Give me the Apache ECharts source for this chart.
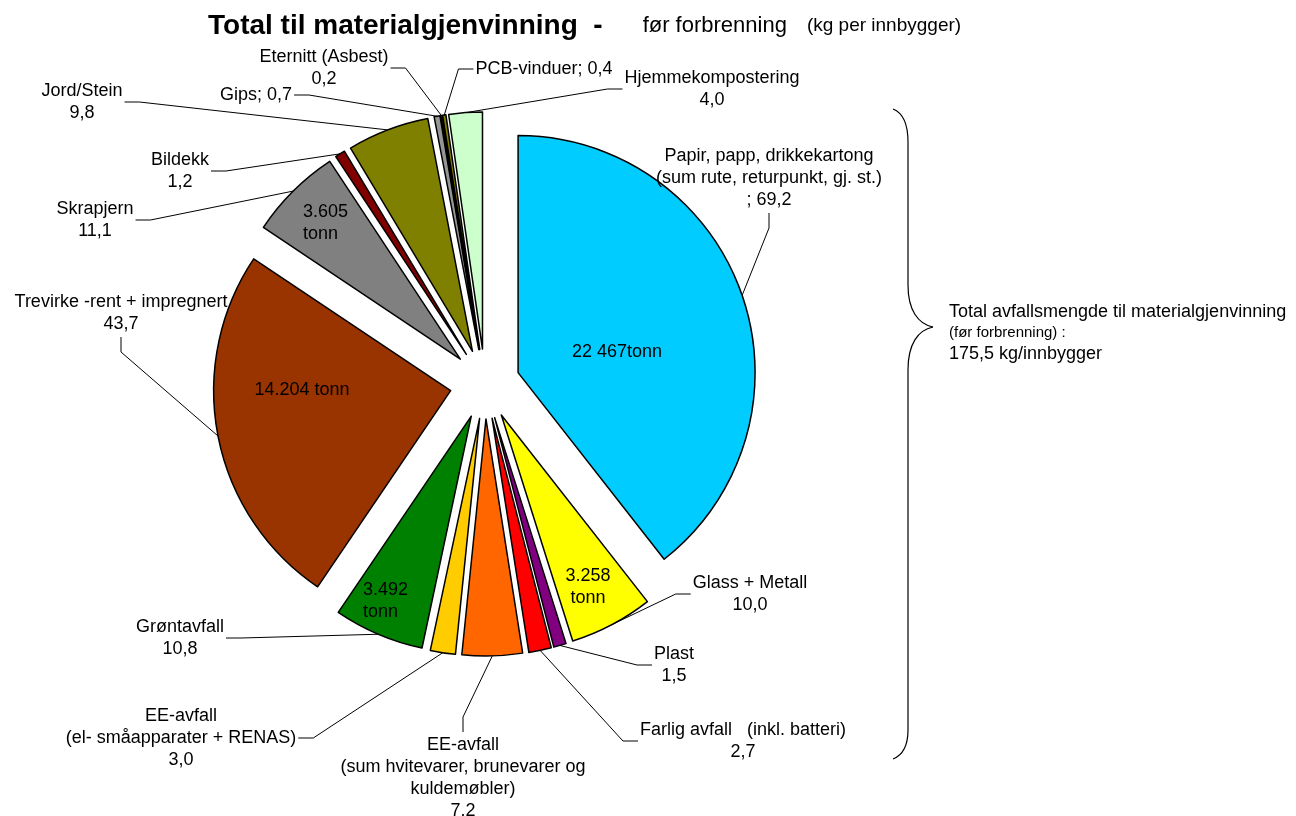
<!DOCTYPE html>
<html>
<head>
<meta charset="utf-8">
<title>Total til materialgjenvinning</title>
<script src="https://cdn.jsdelivr.net/npm/echarts@6/dist/echarts.min.js"></script>
<style>
  html, body { margin: 0; padding: 0; background: #fff; }
  #chart { width: 1296px; height: 816px; }
</style>
</head>
<body>
<div id="chart"></div>
<script>
const categories = [
  "Papir, papp, drikkekartong\n(sum rute, returpunkt, gj. st.)",
  "Glass + Metall",
  "Plast",
  "Farlig avfall   (inkl. batteri)",
  "EE-avfall\n(sum hvitevarer, brunevarer og\nkuldemøbler)",
  "EE-avfall\n(el- småapparater + RENAS)",
  "Grøntavfall",
  "Trevirke -rent + impregnert",
  "Skrapjern",
  "Bildekk",
  "Jord/Stein",
  "Gips",
  "Eternitt (Asbest)",
  "PCB-vinduer",
  "Hjemmekompostering"
];
const kgPerCapita = [69.2, 10.0, 1.5, 2.7, 7.2, 3.0, 10.8, 43.7, 11.1, 1.2, 9.8, 0.7, 0.2, 0.4, 4.0];
const valueLabels = ["69,2", "10,0", "1,5", "2,7", "7.2", "3,0", "10,8", "43,7", "11,1", "1,2", "9,8", "0,7", "0,2", "0,4", "4,0"];
const labelSeparators = ["\n; ", "\n", "\n", "\n", "\n", "\n", "\n", "\n", "\n", "\n", "\n", "; ", "\n", "; ", "\n"];
const tonnageLabels = ["22 467tonn", "3.258\ntonn", "", "", "", "", "3.492\ntonn", "14.204 tonn", "3.605\ntonn", "", "", "", "", "", ""];

const sliceColors = [
  "#00ccff", "#ffff00", "#800080", "#ff0000", "#ff6600", "#ffcc00", "#008000",
  "#993300", "#808080", "#800000", "#808000", "#969696", "#333333", "#808000", "#ccffcc"
];

// where Excel had the labels (centre of each text block) and which side the leader leaves from
const labelPos = [
  [769, 178], [750, 594], [674, 665], [743, 741], [463, 778], [181, 738], [180, 638],
  [121, 313], [95, 220], [180, 171], [82, 102], [256, 95], [324, 68], [544, 69], [712, 89]
];
const labelSide = [
  "bottom", "left", "left", "left", "top", "right", "right",
  "bottom", "right", "right", "right", "right", "right", "left", "left"
];
const innerLabelPos = [
  [617, 352], [588, 587], null, null, null, null, [363, 601],
  [302, 390], [303, 223], null, null, null, null, null, null
];
const innerLabelAlign = [
  "center", "center", null, null, null, null, "left",
  "center", "left", null, null, null, null, null, null
];

const fontFamily = "'Liberation Sans', Arial, sans-serif";
const pieCenter = [485, 384];
const pieRadius = 237;
const explode = 35;
const leaderStub = 15;
const total = kgPerCapita.reduce((a, b) => a + b, 0);
const braceStyle = { fill: "none", stroke: "#000", lineWidth: 1.2 };

function outerLabelLayout(params) {
  const i = params.dataIndex;
  const [x, y] = labelPos[i];
  const w = params.labelRect.width;
  const h = params.labelRect.height;
  const side = labelSide[i];
  let end;
  let turn;
  if (side === "left") {
    end = [x - w / 2 - 2, y];
    turn = [end[0] - leaderStub, y];
  } else if (side === "right") {
    end = [x + w / 2 + 2, y];
    turn = [end[0] + leaderStub, y];
  } else if (side === "top") {
    end = [x, y - h / 2 - 2];
    turn = [x, end[1] - leaderStub];
  } else {
    end = [x, y + h / 2 + 2];
    turn = [x, end[1] + leaderStub];
  }
  const anchor = params.labelLinePoints ? params.labelLinePoints[0] : turn;
  return {
    x,
    y,
    align: "center",
    verticalAlign: "middle",
    labelLinePoints: [anchor, turn, end]
  };
}

const chart = echarts.init(document.getElementById("chart"), null, { renderer: "canvas" });

chart.setOption({
  backgroundColor: "#ffffff",
  animation: false,
  title: {
    text: "{b|Total til materialgjenvinning  -}{n|før forbrenning}{s|(kg per innbygger)}",
    left: 203,
    top: 7,
    textStyle: {
      rich: {
        b: { fontSize: 28, fontWeight: "bold", fontFamily, color: "#000" },
        n: { fontSize: 22, fontWeight: "normal", fontFamily, color: "#000", padding: [0, 0, 0, 40] },
        s: { fontSize: 19, fontWeight: "normal", fontFamily, color: "#000", padding: [0, 0, 0, 20] }
      }
    }
  },
  graphic: [
    { type: "bezierCurve", shape: { x1: 893, y1: 109, cpx1: 903, cpy1: 113, cpx2: 908, cpy2: 125, x2: 908, y2: 142 }, style: braceStyle },
    { type: "line", shape: { x1: 908, y1: 142, x2: 908, y2: 285 }, style: braceStyle },
    { type: "bezierCurve", shape: { x1: 908, y1: 285, cpx1: 908, cpy1: 310, cpx2: 918, cpy2: 324, x2: 933, y2: 327 }, style: braceStyle },
    { type: "bezierCurve", shape: { x1: 933, y1: 327, cpx1: 918, cpy1: 330, cpx2: 908, cpy2: 344, x2: 908, y2: 370 }, style: braceStyle },
    { type: "line", shape: { x1: 908, y1: 370, x2: 908, y2: 730 }, style: braceStyle },
    { type: "bezierCurve", shape: { x1: 908, y1: 730, cpx1: 908, cpy1: 746, cpx2: 903, cpy2: 755, x2: 893, y2: 759 }, style: braceStyle },
    {
      type: "text",
      x: 949,
      y: 312,
      style: { text: "Total avfallsmengde til materialgjenvinning", fontSize: 18, fontFamily, fill: "#000", verticalAlign: "middle" }
    },
    {
      type: "text",
      x: 949,
      y: 333,
      style: { text: "(før forbrenning) :", fontSize: 15, fontFamily, fill: "#000", verticalAlign: "middle" }
    },
    {
      type: "text",
      x: 949,
      y: 354,
      style: { text: total.toFixed(1).replace(".", ",") + " kg/innbygger", fontSize: 18, fontFamily, fill: "#000", verticalAlign: "middle" }
    }
  ],
  series: [
    {
      // the exploded slices
      type: "pie",
      center: pieCenter,
      radius: pieRadius,
      startAngle: 90,
      clockwise: true,
      selectedMode: "multiple",
      selectedOffset: explode,
      emphasis: { disabled: true },
      itemStyle: { borderColor: "#000", borderWidth: 1.5 },
      select: { itemStyle: { borderColor: "#000", borderWidth: 1.5 } },
      label: { show: false },
      labelLine: { show: false },
      data: categories.map((name, i) => ({
        name,
        value: kgPerCapita[i],
        selected: true,
        itemStyle: { color: sliceColors[i] }
      }))
    },
    {
      // invisible ring as far out as the exploded arcs, carries the outer labels
      type: "pie",
      center: pieCenter,
      radius: pieRadius + explode,
      startAngle: 90,
      clockwise: true,
      silent: true,
      selectedMode: false,
      avoidLabelOverlap: false,
      itemStyle: { color: "rgba(0,0,0,0)", borderWidth: 0 },
      label: {
        show: true,
        position: "outside",
        color: "#000",
        fontSize: 18,
        lineHeight: 22,
        fontFamily,
        formatter: p => categories[p.dataIndex] + labelSeparators[p.dataIndex] + valueLabels[p.dataIndex]
      },
      labelLine: { show: true, length: 15, length2: 15, lineStyle: { color: "#000", width: 1 } },
      labelLayout: outerLabelLayout,
      data: categories.map((name, i) => ({ name, value: kgPerCapita[i] }))
    },
    {
      // tonnage labels inside the larger slices
      type: "pie",
      center: pieCenter,
      radius: pieRadius,
      startAngle: 90,
      clockwise: true,
      silent: true,
      selectedMode: false,
      avoidLabelOverlap: false,
      itemStyle: { color: "rgba(0,0,0,0)", borderWidth: 0 },
      label: {
        show: true,
        position: "inside",
        color: "#000",
        fontSize: 18,
        lineHeight: 22,
        fontFamily,
        formatter: p => tonnageLabels[p.dataIndex]
      },
      labelLine: { show: false },
      labelLayout: p => {
        const pos = innerLabelPos[p.dataIndex];
        if (!pos) {
          return {};
        }
        return { x: pos[0], y: pos[1], align: innerLabelAlign[p.dataIndex], verticalAlign: "middle" };
      },
      data: categories.map((name, i) => ({ name, value: kgPerCapita[i] }))
    }
  ]
});

window.addEventListener("resize", () => chart.resize());
</script>
</body>
</html>
